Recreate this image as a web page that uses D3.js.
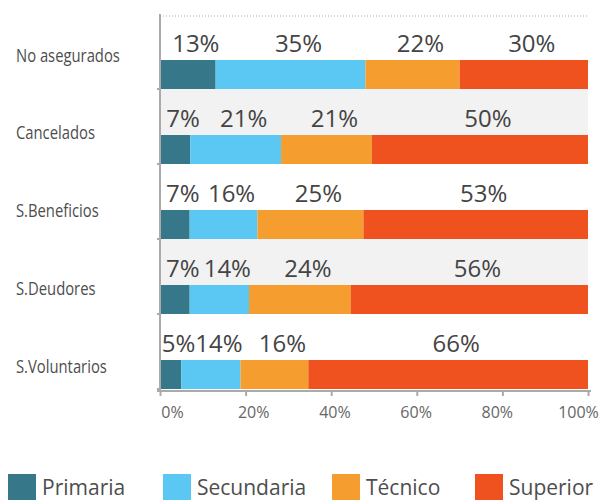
<!DOCTYPE html>
<html>
<head>
<meta charset="utf-8">
<script src="https://cdn.jsdelivr.net/npm/d3@7"></script>
<style>
    body { margin: 0; background: #fff; }
    svg text { font-family: "Open Sans", sans-serif; }
</style>
</head>
<body>
<div id="chart"></div>
<script>
    // categories (top to bottom) and share per education level
    var categories = ['No asegurados', 'Cancelados', 'S.Beneficios', 'S.Deudores', 'S.Voluntarios'];
    var seriesNames = ['Primaria', 'Secundaria', 'Técnico', 'Superior'];
    var primaria = [13, 7, 7, 7, 5];
    var secundaria = [35, 21, 16, 14, 14];
    var tecnico = [22, 21, 25, 24, 16];
    var superior = [30, 50, 53, 56, 66];
    var tickValues = [0, 0.2, 0.4, 0.6, 0.8, 1];
    var colors = ['#37778a', '#5bc8f4', '#f59d2e', '#f0521f'];

    var width = 602, height = 500;
    var margin = { top: 14, left: 160, right: 14, bottom: 111 };

    var rows = categories.map(function (c, i) {
        return { label: c, Primaria: primaria[i], Secundaria: secundaria[i], 'Técnico': tecnico[i], Superior: superior[i] };
    });

    var stack = d3.stack()
        .keys(seriesNames)
        .offset(d3.stackOffsetExpand);
    var layers = stack(rows);

    var xScale = d3.scaleLinear()
        .domain([0, 1])
        .range([margin.left, width - margin.right]);

    var yScale = d3.scaleBand()
        .domain(categories)
        .range([margin.top, height - margin.bottom]);

    // category labels sit a little lower than the bands
    var labelScale = d3.scalePoint()
        .domain(categories)
        .range([55, 366]);

    // tick labels are spread slightly inside the axis ends
    var tickLabelScale = d3.scaleLinear()
        .domain([0, 1])
        .range([172, 578]);

    var barHeight = 29;

    var svg = d3.select('#chart')
        .append('svg')
        .attr('width', width)
        .attr('height', height);

    // alternating grey bands
    svg.selectAll('.band')
        .data(categories.filter(function (d, i) { return i % 2 === 1; }))
        .enter()
        .append('rect')
        .attr('class', 'band')
        .attr('x', margin.left)
        .attr('width', xScale(1) - margin.left)
        .attr('y', function (d) { return yScale(d); })
        .attr('height', yScale.bandwidth())
        .attr('fill', '#f2f2f2');

    // dotted top line
    svg.append('line')
        .attr('x1', margin.left)
        .attr('x2', xScale(1))
        .attr('y1', margin.top + 2)
        .attr('y2', margin.top + 2)
        .attr('stroke', '#aaa')
        .attr('stroke-width', 1)
        .attr('stroke-dasharray', '1,2');

    // bars
    layers.forEach(function (layer, k) {
        svg.selectAll('.bar-' + k)
            .data(layer)
            .enter()
            .append('rect')
            .attr('class', 'bar-' + k)
            .attr('x', function (d) { return xScale(d[0]); })
            .attr('width', function (d) { return xScale(d[1]) - xScale(d[0]); })
            .attr('y', function (d) { return yScale(d.data.label) + yScale.bandwidth() - barHeight; })
            .attr('height', barHeight)
            .attr('fill', colors[k]);

        svg.selectAll('.val-' + k)
            .data(layer)
            .enter()
            .append('text')
            .attr('class', 'val-' + k)
            .attr('x', function (d) { return (xScale(d[0]) + xScale(d[1])) / 2 + 8; })
            .attr('y', function (d) { return yScale(d.data.label) + yScale.bandwidth() - barHeight - 8; })
            .attr('text-anchor', 'middle')
            .attr('font-size', '24px')
            .attr('fill', '#444')
            .text(function (d) { return d.data[layer.key] + '%'; });
    });

    // y axis line and ticks
    svg.append('line')
        .attr('x1', margin.left)
        .attr('x2', margin.left)
        .attr('y1', margin.top)
        .attr('y2', yScale.range()[1] + 3)
        .attr('stroke', '#aaa')
        .attr('stroke-width', 2);

    svg.selectAll('.ytick')
        .data(categories)
        .enter()
        .append('line')
        .attr('class', 'ytick')
        .attr('x1', margin.left - 3)
        .attr('x2', margin.left)
        .attr('y1', function (d) { return yScale(d) + yScale.bandwidth(); })
        .attr('y2', function (d) { return yScale(d) + yScale.bandwidth(); })
        .attr('stroke', '#aaa')
        .attr('stroke-width', 2);

    // category names look condensed in the original, squeeze them horizontally
    svg.selectAll('.cat')
        .data(categories)
        .enter()
        .append('text')
        .attr('class', 'cat')
        .attr('transform', function (d) { return 'translate(16,' + labelScale(d) + ') scale(0.78,1)'; })
        .attr('dy', '0.35em')
        .attr('font-size', '19px')
        .attr('fill', '#4d4d4d')
        .text(function (d) { return d; });

    // x axis
    var xAxis = d3.axisBottom(xScale)
        .tickValues(tickValues)
        .tickSize(5)
        .tickSizeOuter(0)
        .tickFormat(d3.format('.0%'));

    var gx = svg.append('g')
        .attr('transform', 'translate(0,' + (yScale.range()[1] + 2) + ')')
        .call(xAxis);

    gx.select('.domain')
        .attr('stroke', '#aaa')
        .attr('stroke-width', 2)
        .attr('d', 'M' + (margin.left - 3) + ',0H' + (xScale(1) + 3));
    gx.selectAll('.tick line')
        .attr('stroke', '#aaa')
        .attr('stroke-width', 2);
    gx.selectAll('.tick text')
        .attr('font-size', '16px')
        .attr('fill', '#666')
        .attr('y', 16)
        .attr('dy', '0.71em')
        .attr('x', function (d) { return tickLabelScale(d) - xScale(d); });

    // legend
    var legendX = [8, 163, 332, 475];
    var legend = svg.selectAll('.legend')
        .data(seriesNames)
        .enter()
        .append('g')
        .attr('class', 'legend')
        .attr('transform', function (d, i) { return 'translate(' + legendX[i] + ',474)'; });

    legend.append('rect')
        .attr('width', 28)
        .attr('height', 28)
        .attr('fill', function (d, i) { return colors[i]; });

    legend.append('text')
        .attr('x', 34)
        .attr('y', 21)
        .attr('font-size', '21px')
        .attr('fill', '#4d4d4d')
        .text(function (d) { return d; });
</script>
</body>
</html>
